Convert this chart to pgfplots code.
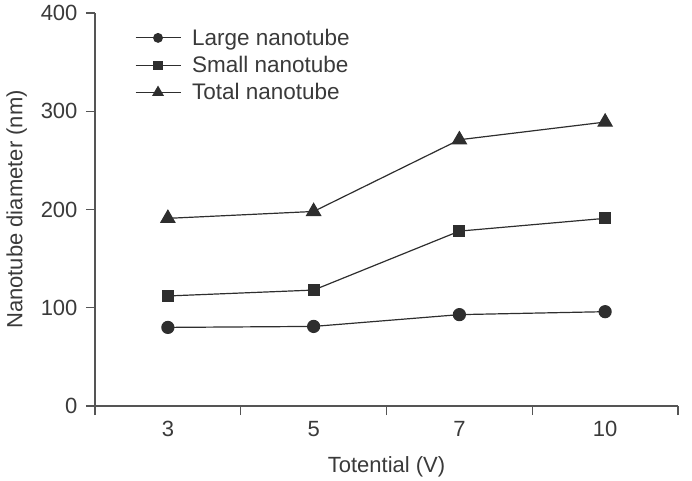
\documentclass[border=0pt]{standalone}
\usepackage{pgfplots}
\pgfplotsset{compat=1.18}
\usepackage{fontspec}
\setmainfont{Liberation Sans}
\definecolor{txt}{HTML}{3A3A3A}
\definecolor{ln}{HTML}{2E2E2E}
\definecolor{ax}{HTML}{555555}
\begin{document}
\begin{tikzpicture}
\useasboundingbox (-95pt,-74pt) rectangle (597pt,406pt);
\begin{axis}[
  at={(0pt,0pt)}, anchor=south west,
  scale only axis, width=583pt, height=393pt,
  xmin=-0.5, xmax=3.5, ymin=0, ymax=400,
  axis lines*=left, axis line style={ax, line width=1.2pt, -},
  xtick={0,1,2,3}, xticklabels={3,5,7,10},
  major x tick style={draw=none},
  minor xtick={-0.5,0.5,1.5,2.5,3.5},
  minor x tick style={ax, line width=1.2pt},
  minor tick length=9pt,
  ytick={0,100,200,300,400},
  y tick style={ax, line width=1.2pt},
  major tick length=9pt,
  tick align=outside,
  tick label style={font=\fontsize{22}{26}\selectfont, text=txt},
  /pgf/number format/assume math mode=true,
  xticklabel style={yshift=-3pt},
  yticklabel style={xshift=-5pt},
  xlabel={Totential (V)}, ylabel={Nanotube diameter (nm)},
  label style={font=\fontsize{22}{26}\selectfont, text=txt},
  xlabel style={yshift=-13pt},
  ylabel style={yshift=7pt},
  legend style={draw=none, fill=none, at={(0.063,0.97)}, anchor=north west,
    font=\fontsize{22.5}{26}\selectfont, text=txt, row sep=5.5pt},
  legend cell align=left,
  legend image code/.code={
    \draw[mark repeat=2,mark phase=2,#1] plot coordinates {(0pt,0pt)(22.5pt,0pt)(45pt,0pt)};
    \path (54pt,0pt);},
  legend image post style={mark options={scale=0.72}},
]
\addplot[ln, line width=1.2pt, mark=*, mark size=6pt, mark options={fill=ln, draw=ln}]
  coordinates {(0,80) (1,81) (2,93) (3,96)};
\addlegendentry{Large nanotube}
\addplot[ln, line width=1.2pt, mark=square*, mark size=5.5pt, mark options={fill=ln, draw=ln}]
  coordinates {(0,112) (1,118) (2,178) (3,191)};
\addlegendentry{Small nanotube}
\addplot[ln, line width=1.2pt, mark=triangle*, mark size=8pt, mark options={fill=ln, draw=ln}]
  coordinates {(0,191) (1,198) (2,271) (3,289)};
\addlegendentry{Total nanotube}
\end{axis}
\end{tikzpicture}
\end{document}
